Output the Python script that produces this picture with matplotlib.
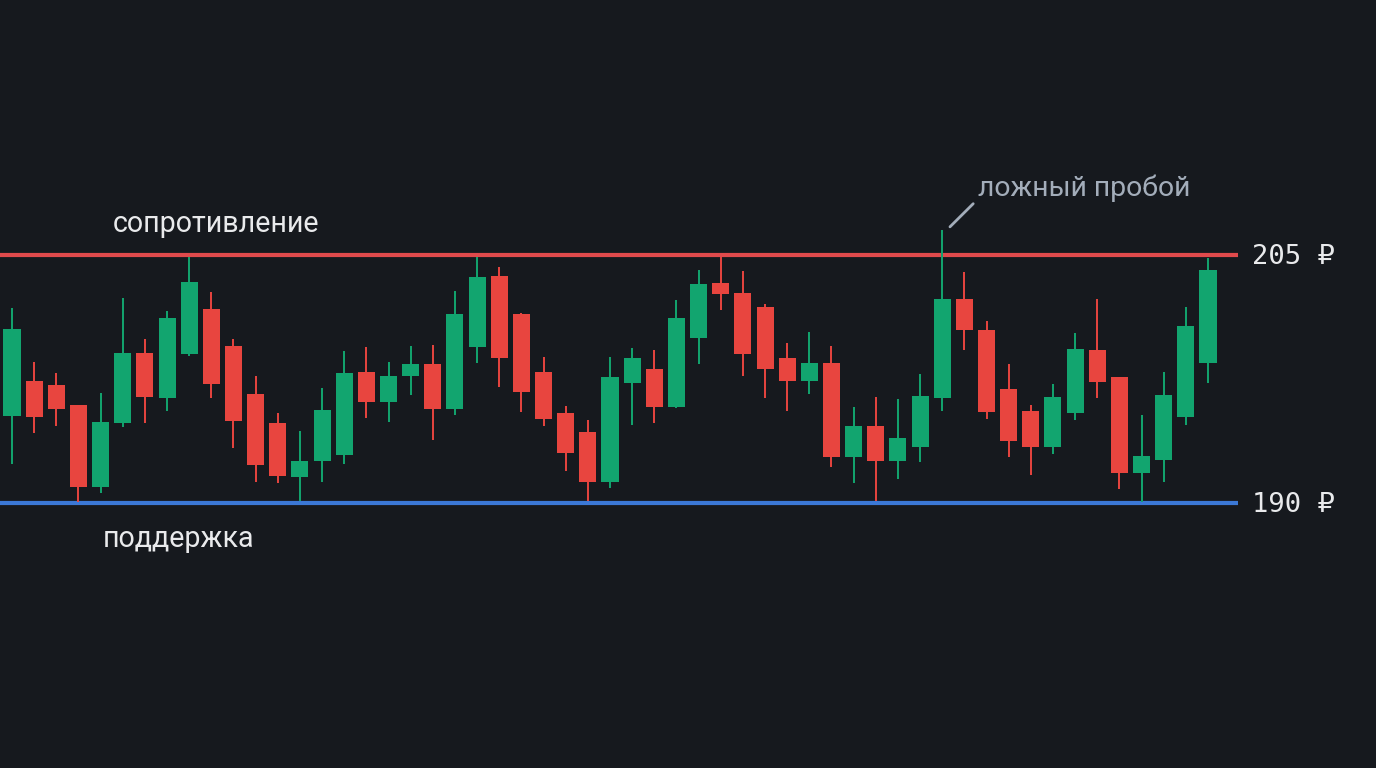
import matplotlib
matplotlib.use('Agg')
import matplotlib.pyplot as plt
from matplotlib.patches import Rectangle

# OHLC values (55 candles)
opens = [195.26, 197.38, 197.14, 195.93, 190.97, 194.84, 199.07, 196.35, 199.01, 201.73,
         199.50, 196.59, 194.84, 191.57, 192.54, 192.90, 197.92, 196.11, 197.68, 198.41,
         195.69, 199.44, 203.73, 201.43, 197.92, 195.44, 194.29, 191.27, 197.26, 198.10,
         195.81, 199.98, 203.31, 202.70, 201.85, 198.77, 197.38, 198.47, 192.78, 194.66,
         192.54, 193.39, 196.35, 202.34, 200.46, 196.90, 195.56, 193.39, 195.44, 199.25,
         197.62, 191.81, 192.60, 195.20, 198.47]
highs = [201.79, 198.53, 197.86, 195.93, 196.65, 202.40, 199.92, 201.61, 204.88, 202.76,
         199.92, 197.68, 195.44, 194.35, 196.96, 199.19, 199.44, 198.53, 199.50, 199.56,
         202.82, 204.88, 204.27, 201.49, 198.83, 195.87, 195.02, 198.83, 199.38, 199.25,
         202.28, 204.09, 204.88, 204.03, 202.04, 199.68, 200.34, 199.50, 195.81, 196.41,
         196.29, 197.80, 206.51, 203.97, 201.01, 198.41, 195.93, 197.20, 200.28, 202.34,
         197.62, 195.32, 197.92, 201.85, 204.82]
lows = [192.36, 194.23, 194.66, 190.06, 190.60, 194.60, 194.84, 195.56, 198.89, 196.35,
        193.33, 191.27, 191.21, 190.12, 191.27, 192.36, 195.14, 194.90, 196.53, 193.81,
        195.32, 198.47, 197.02, 195.50, 194.66, 191.94, 190.12, 190.91, 194.72, 194.84,
        195.75, 198.41, 201.67, 197.68, 196.35, 195.56, 196.59, 192.18, 191.21, 190.12,
        191.45, 192.48, 195.56, 199.25, 195.08, 192.78, 191.69, 192.96, 195.02, 196.35,
        190.85, 190.06, 191.27, 194.72, 197.26]
closes = [200.52, 195.20, 195.69, 190.97, 194.90, 199.07, 196.41, 201.19, 203.37, 197.20,
          194.96, 192.30, 191.63, 192.54, 195.63, 197.86, 196.11, 197.68, 198.41, 195.69,
          201.43, 203.67, 198.77, 196.71, 195.08, 193.02, 191.27, 197.62, 198.77, 195.81,
          201.19, 203.25, 202.64, 199.01, 198.10, 197.38, 198.47, 192.78, 194.66, 192.54,
          193.93, 196.47, 202.34, 200.46, 195.50, 193.75, 193.39, 196.41, 199.31, 197.32,
          191.81, 192.84, 196.53, 200.71, 204.09]

resistance = 205
support = 190
resistance_label = '205 ₽'
support_label = '190 ₽'

BG = '#16191e'
UP = '#12a56f'
DOWN = '#e8453f'
RES_COLOR = '#e04a4c'
SUP_COLOR = '#3b78d6'
TEXT = '#e9eaec'
NOTE = '#a3adba'

fig = plt.figure(figsize=(13.76, 7.68), dpi=100)
fig.patch.set_facecolor(BG)
ax = fig.add_axes([0, 0, 1, 1])
ax.set_facecolor(BG)
ax.set_xlim(-0.542, 61.586)
ax.set_ylim(173.97, 220.42)
ax.axis('off')

body_w = 0.77
for i, (o, h, l, c) in enumerate(zip(opens, highs, lows, closes)):
    col = UP if c >= o else DOWN
    ax.plot([i, i], [l, h], color=col, lw=1.4, solid_capstyle='butt', zorder=2)
    ax.add_patch(Rectangle((i - body_w / 2, min(o, c)), body_w, abs(c - o),
                           facecolor=col, edgecolor='none', zorder=3))

line_end = 55.35
ax.plot([-1, line_end], [resistance, resistance], color=RES_COLOR, lw=3, zorder=1,
        solid_capstyle='butt')
ax.plot([-1, line_end], [support, support], color=SUP_COLOR, lw=3, zorder=1,
        solid_capstyle='butt')

mono = ['DejaVu Sans Mono', 'DejaVu Sans']
ax.text(56.0, resistance - 0.15, resistance_label, color=TEXT, fontsize=19.5, family=mono,
        va='center', ha='left')
ax.text(56.0, support - 0.15, support_label, color=TEXT, fontsize=19.5, family=mono,
        va='center', ha='left')

sans = ['Roboto', 'DejaVu Sans']
ax.text(4.56, 206.85, 'сопротивление', color=TEXT, fontsize=20.6, family=sans,
        va='center', ha='left')
ax.text(4.1, 187.85, 'поддержка', color=TEXT, fontsize=20.6, family=sans,
        va='center', ha='left')

# false breakout note
ax.text(43.6, 209.05, 'ложный пробой', color=NOTE, fontsize=20.4, family=sans,
        va='center', ha='left')
ax.plot([42.35, 43.4], [206.7, 208.1], color=NOTE, lw=2, solid_capstyle='round')

fig.savefig('out.png', dpi=100, facecolor=BG)
